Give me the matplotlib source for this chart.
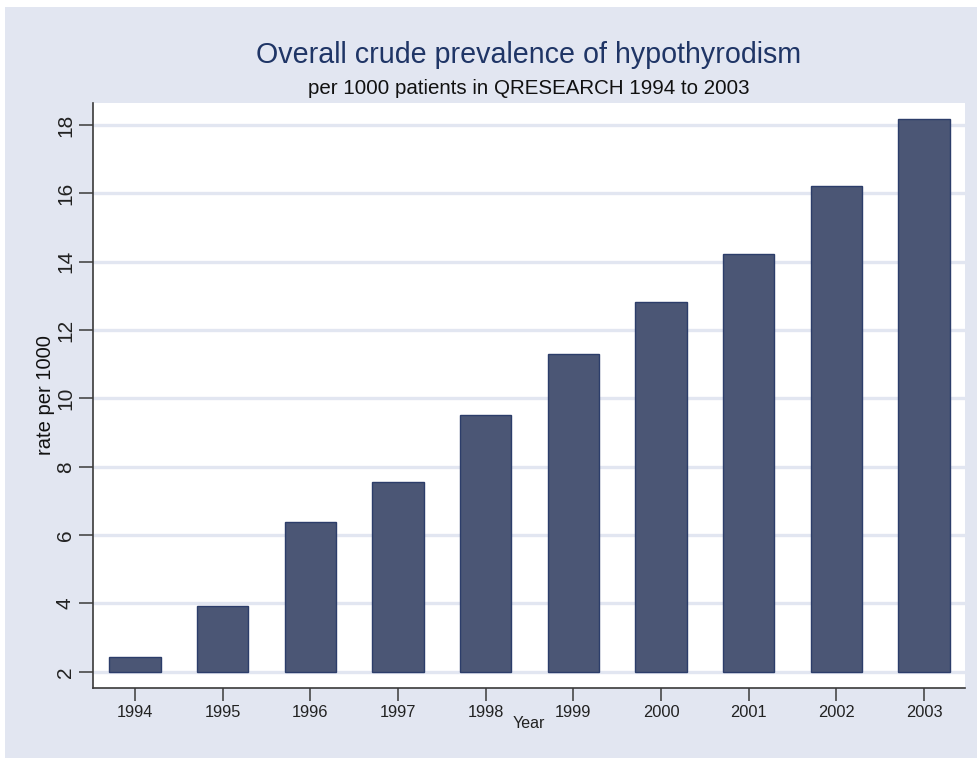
import numpy as np
import matplotlib
matplotlib.use("Agg")
import matplotlib.pyplot as plt
from matplotlib.patches import Rectangle

# data
years = [1994, 1995, 1996, 1997, 1998, 1999, 2000, 2001, 2002, 2003]
rate = [2.43, 3.92, 6.39, 7.56, 9.52, 11.29, 12.82, 14.21, 16.20, 18.17]
yticks = [2, 4, 6, 8, 10, 12, 14, 16, 18]

title = "Overall crude prevalence of hypothyrodism"
subtitle = "per 1000 patients in QRESEARCH 1994 to 2003"
ylab = "rate per 1000"
xlab = "Year"

bg = "#e2e6f1"
barcol = "#4b5675"
edgecol = "#2c3d6a"

plt.rcParams['font.family'] = ['Liberation Sans', 'DejaVu Sans']

W, H = 978, 758
fig = plt.figure(figsize=(W/100, H/100), dpi=100)
fig.patch.set_facecolor("white")
# grey graph region (leaves a thin white strip top/left like the original)
fig.patches.append(Rectangle((5/W, 0), (W-5)/W, (H-7)/H, transform=fig.transFigure,
                             facecolor=bg, edgecolor="none", zorder=-10))

# plot region in pixels: left 93, right 965, top 102.7, bottom 688
ax = fig.add_axes([93/W, (H-688)/H, (965-93)/W, (688-102.7)/H])
ax.set_facecolor("white")

ax.bar(years, np.array(rate) - 2, bottom=2, width=0.586, color=barcol,
       edgecolor=edgecol, linewidth=1.0, zorder=3)

ax.set_xlim(1993.521, 2003.468)
ax.set_ylim(1.526, 18.65)
ax.set_xticks(years)
ax.set_xticklabels([str(y) for y in years])
ax.set_yticks(yticks)
ax.set_yticklabels([str(v) for v in yticks], rotation=90, va="center")

ax.grid(axis="y", color=bg, linewidth=2.4, zorder=0)
ax.set_axisbelow(True)

for s in ["top", "right"]:
    ax.spines[s].set_visible(False)
for s in ["left", "bottom"]:
    ax.spines[s].set_color("#3a3a3a")
    ax.spines[s].set_linewidth(1.2)

ax.tick_params(axis="x", length=9, width=1.1, color="#3a3a3a", labelsize=11.8,
               labelcolor="#222222", pad=3)
ax.tick_params(axis="y", length=10, width=1.1, color="#3a3a3a", labelsize=15,
               labelcolor="#222222", pad=3)

ax.set_ylabel(ylab, fontsize=14.5, color="#111111")
ax.yaxis.label.set_va("center")
ax.yaxis.set_label_coords((45.6-93)/872, 0.5)

ax.set_xlabel(xlab, fontsize=11.5, color="#222222")
ax.xaxis.label.set_va("center")
ax.xaxis.set_label_coords(0.5, (688-723)/(688-102.7))

cx = (93+965)/2/W
fig.text(cx, 1-62.7/H, title, ha="center", va="baseline", fontsize=20.6, color="#1f3566")
fig.text(cx, 1-94/H, subtitle, ha="center", va="baseline", fontsize=14.8, color="#111111")

fig.savefig("out.png", dpi=100, facecolor=fig.get_facecolor())
